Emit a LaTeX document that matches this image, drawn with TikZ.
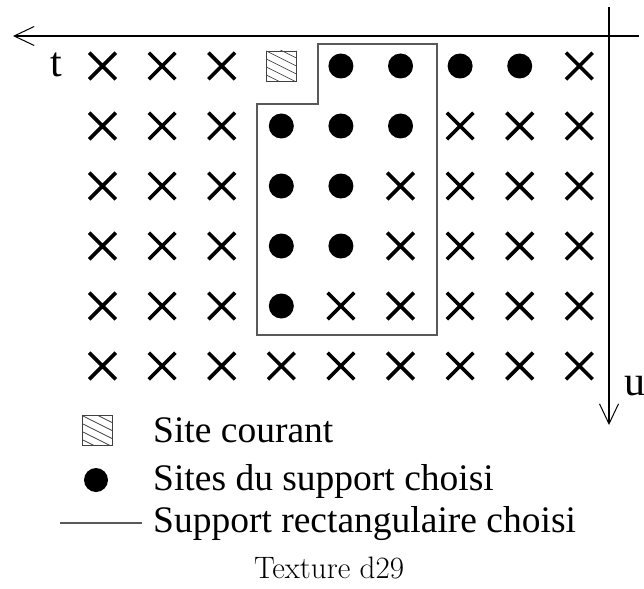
\documentclass[tikz,border=0pt]{standalone}
\usepackage{fontspec}
\newfontfamily\tms{Liberation Serif}
\usetikzlibrary{shapes.misc,arrows.meta}
\newcommand\legfont{\tms\fontsize{37.5}{42}\selectfont}
\newcommand\axfont{\tms\fontsize{42}{48}\selectfont}
\begin{document}
\begin{tikzpicture}[x=1pt,y=-1pt,
  xmark/.style={cross out,draw,line width=3.6pt,minimum size=23pt,inner sep=0pt},
  dmark/.style={circle,fill,minimum size=25pt,inner sep=0pt},
  hmark/.style={rectangle,draw=black!75,line width=0.9pt,minimum size=30pt,inner sep=0pt,
    path picture={\foreach \k in {-4,...,2}{\draw[line width=0.7pt] ([yshift=\k*8pt]path picture bounding box.north west) -- ++(40pt,-20pt);}}},
  axis/.style={line width=1.3pt,-{Straight Barb[length=20pt,width=19pt,line width=1pt]}},
  support/.style={draw=black!65,line width=1.2pt},
  legtext/.style={anchor=base west,inner sep=0pt,font=\legfont},
]
\useasboundingbox (0,0) rectangle (644,588);
% axes
\coordinate (hs) at (639,36);
\coordinate (he) at (13,36);
\coordinate (vs) at (609,7);
\coordinate (ve) at (609,425);
\draw[axis] (hs) -- (he);
\draw[axis] (vs) -- (ve);
\node[anchor=base,inner sep=0pt,font=\axfont] (t) at (56,77) {t};
\node[anchor=base west,inner sep=0pt,font=\axfont] (u) at (624,395) {u};
% grid: x = cross, d = dot, h = hatched
\foreach \row/\list in {0/{x,x,x,h,d,d,d,d,x},1/{x,x,x,d,d,d,x,x,x},2/{x,x,x,d,d,x,x,x,x},3/{x,x,x,d,d,x,x,x,x},4/{x,x,x,d,x,x,x,x,x},5/{x,x,x,x,x,x,x,x,x}}{
  \foreach \m [count=\c from 0] in \list {
    \pgfmathsetmacro\px{102.5+59.6*\c}
    \pgfmathsetmacro\py{66+60*\row}
    \if\m x\node[xmark] (g-\row-\c) at (\px,\py) {};\fi
    \if\m d\node[dmark] (g-\row-\c) at (\px,\py) {};\fi
    \if\m h\node[hmark] (g-\row-\c) at (\px,\py) {};\fi
  }
}
% chosen rectangular support
\draw[support] (318,44) -- (437,44) -- (437,335) -- (257,335) -- (257,104) -- (318,104) -- cycle;
% legend
\node[hmark] (lh) at (97,430.5) {};
\node[dmark,minimum size=24pt] (ld) at (96,480) {};
\coordinate (ll1) at (60,523);
\coordinate (ll2) at (142,523);
\draw[support] (ll1) -- (ll2);
\node[legtext] (t1) at (153,442) {Site courant};
\node[legtext] (t2) at (153,490) {Sites du support choisi};
\node[legtext] (t3) at (153,532) {Support rectangulaire choisi};
\node[anchor=base,inner sep=0pt,font=\fontsize{31}{36}\selectfont] (cap) at (329,578) {Texture d29};
\end{tikzpicture}
\end{document}
